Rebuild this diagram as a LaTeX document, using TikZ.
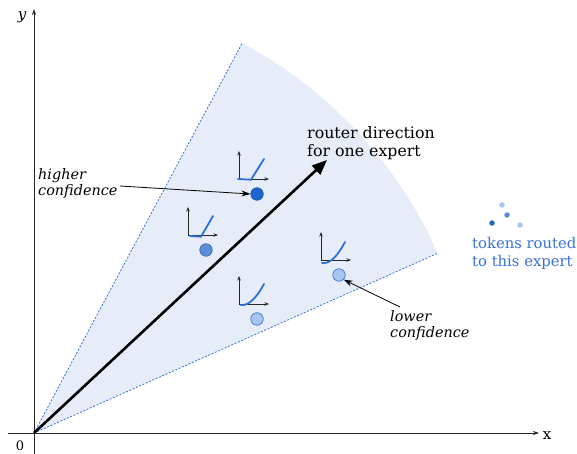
\documentclass[tikz,border=0pt]{standalone}
\usepackage{fontspec}
\setmainfont{DejaVu Serif}
\usetikzlibrary{arrows.meta,calc}
\definecolor{wedgefill}{HTML}{E6EDF8}
\definecolor{edgeblue}{HTML}{3A72D8}
\definecolor{curveblue}{HTML}{2F6FDA}
\definecolor{dotdark}{HTML}{1F66CC}
\definecolor{dotmid}{HTML}{5B8ED8}
\definecolor{dotlight}{HTML}{A9C6F0}
\definecolor{tokblue}{HTML}{3A72D8}
\tikzset{
  axisline/.style={draw=black!85, line width=0.8pt, -{Stealth[length=6pt,width=4pt]}},
  wedgeedge/.style={draw=edgeblue, line width=0.8pt, dash pattern=on 2pt off 1.6pt},
  router/.style={draw=black, line width=2.6pt, -{Stealth[length=15pt,width=12pt,inset=0pt]}},
  pointer/.style={draw=black, line width=0.8pt, -{Stealth[length=9pt,width=6pt]}},
  miniaxis/.style={draw=black!85, line width=0.8pt, -{Stealth[length=4.5pt,width=3.5pt]}},
  minicurve/.style={draw=curveblue, line width=1.8pt, line cap=round},
  tokenbig/.style={circle, inner sep=0pt, minimum size=12.5pt, line width=0.7pt},
  tokensmall/.style={circle, inner sep=0pt, minimum size=5.5pt},
  lbl/.style={inner sep=0pt, anchor=north west, align=left, font=\fontsize{15.8}{18}\selectfont},
  notelbl/.style={inner sep=0pt, anchor=north west, align=left, font=\fontsize{14.4}{16}\selectfont\itshape},
}
% pixel-style coordinates: x to the right, y downwards
\begin{document}
\begin{tikzpicture}[x=1pt, y=-1pt]
\useasboundingbox (0,0) rectangle (577,454);

\coordinate (O) at (34,433);
\coordinate (xend) at (539,433);
\coordinate (xstart) at (8,433);
\coordinate (yend) at (34,9);
\coordinate (ystart) at (34,454);

% routing cone of one expert
\coordinate (upper) at ($(O)+(-61.9:442)$);
\coordinate (lower) at ($(O)+(-24.0:442)$);
\fill[wedgefill] (O) -- (upper) arc[start angle=-61.9, end angle=-24.0, radius=442] -- cycle;
\draw[wedgeedge] (O) -- (upper);
\draw[wedgeedge] (O) -- (lower);

% main axes
\draw[axisline] (xstart) -- (xend);
\draw[axisline] (ystart) -- (yend);
\node[inner sep=0pt, font=\fontsize{15}{15}\selectfont] (xl) at (547,436) {x};
\node[inner sep=0pt, font=\fontsize{15}{15}\selectfont\itshape] (yl) at (22,17) {y};
\node[inner sep=0pt, font=\fontsize{13}{13}\selectfont] (zero) at (20,446) {0};

% router direction
\coordinate (tip) at (327,160);
\draw[router] (O) -- (tip);
\node[lbl] (rd) at (307,126) {router direction\\for one expert};

% tokens with their mini activation plots
\node[tokenbig, fill=dotdark, draw=dotdark!85!black] (t1) at (257,194) {};
\node[tokenbig, fill=dotmid, draw=dotmid!75!black] (t2) at (206,250) {};
\node[tokenbig, fill=dotlight, draw=edgeblue] (t3) at (339,275) {};
\node[tokenbig, fill=dotlight, draw=edgeblue] (t4) at (257,319) {};

\foreach \tk in {t1, t2, t3, t4}{
  \coordinate (m) at ($(\tk)+(-18,-15)$);
  \draw[miniaxis] (m) -- ++(30,0);
  \draw[miniaxis] (m) -- ++(0,-28);
}
\draw[minicurve] ($(t1)+(-19,-15)$) -- ($(t1)+(-6,-14.3)$) -- ($(t1)+(7,-35)$);
\draw[minicurve] ($(t2)+(-16,-14)$) -- ($(t2)+(-5,-13.3)$) -- ($(t2)+(7,-34)$);
\draw[minicurve] ($(t3)+(-17,-12)$) .. controls ($(t3)+(-8,-11)$) and ($(t3)+(-1,-20)$) .. ($(t3)+(6,-33)$);
\draw[minicurve] ($(t4)+(-16,-14)$) .. controls ($(t4)+(-8,-13)$) and ($(t4)+(0,-22)$) .. ($(t4)+(7,-35)$);

% confidence notes
\node[notelbl] (hc) at (38,168) {higher\\confidence};
\coordinate (hcstart) at (120,186);
\draw[pointer] (hcstart) -- (t1.west);
\node[notelbl] (lc) at (390,310) {lower\\confidence};
\coordinate (lcstart) at (400,307);
\draw[pointer] (lcstart) -- (t3.south east);

% legend of routed tokens
\node[tokensmall, fill=dotlight] (k1) at (502,205) {};
\node[tokensmall, fill=dotmid] (k2) at (507,215) {};
\node[tokensmall, fill=dotdark] (k3) at (492,223) {};
\node[tokensmall, fill=dotlight] (k4) at (520,225) {};
\node[lbl, text=tokblue, font=\fontsize{14.8}{18}\selectfont] (tk) at (472,237) {tokens routed\\to this expert};
\end{tikzpicture}
\end{document}
